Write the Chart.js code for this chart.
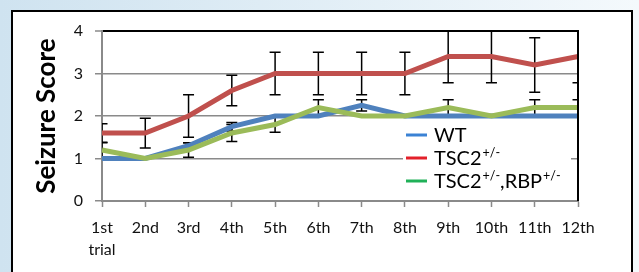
<!DOCTYPE html>
<html>
<head>
<meta charset="utf-8">
<script src="https://cdn.jsdelivr.net/npm/chart.js@4"></script>
<style>
  html, body { margin: 0; padding: 0; }
  body {
    width: 639px; height: 272px; overflow: hidden; position: relative;
    background: linear-gradient(to right, #cfe3f0, #f4f9fc);
  }
  #box {
    position: absolute; left: 11px; top: 10px; width: 618px; height: 300px;
    border: 2px solid #000; background: #fff;
  }
  #chart { position: absolute; left: 0; top: 0; }
</style>
</head>
<body>
<div id="box"></div>
<canvas id="chart" width="639" height="272"></canvas>
<script>
const trials = [['1st', 'trial'], '2nd', '3rd', '4th', '5th', '6th', '7th', '8th', '9th', '10th', '11th', '12th'];
const yTicks = [0, 1, 2, 3, 4];

const wt = [1, 1, 1.3, 1.75, 2, 2, 2.25, 2, 2, 2, 2, 2];
const wtErr = [0, 0, 0.07, 0.1, 0, 0, 0.13, 0, 0, 0, 0, 0];

const tsc2 = [1.6, 1.6, 2, 2.6, 3, 3, 3, 3, 3.4, 3.4, 3.2, 3.4];
const tsc2Err = [0.22, 0.35, 0.5, 0.36, 0.5, 0.5, 0.5, 0.5, 0.62, 0.62, 0.64, 0.62];

const tsc2Rbp = [1.2, 1, 1.2, 1.6, 1.8, 2.2, 2, 2, 2.2, 2, 2.2, 2.2];
const tsc2RbpErr = [0.17, 0, 0.17, 0.2, 0.18, 0.18, 0, 0, 0.18, 0, 0.18, 0.18];

// legend entries: [text, superscript, text, superscript], legend line colour
const legendRows = [
  { parts: ['WT'], color: '#3b82d4' },
  { parts: ['TSC2', '+/-'], color: '#e3202a' },
  { parts: ['TSC2', '+/-', ',RBP', '+/-'], color: '#20b158' }
];

const FONT = 'Lato, "Open Sans", sans-serif';
const GRID = '#8a8a8a';

const errorBars = {
  id: 'errorBars',
  beforeDatasetsDraw(chart) {
    const ctx = chart.ctx;
    const area = chart.chartArea;
    const y = chart.scales.y;
    ctx.save();
    ctx.beginPath();
    ctx.rect(area.left, area.top - 1, area.right - area.left, area.bottom - area.top + 2);
    ctx.clip();
    ctx.strokeStyle = '#000';
    ctx.lineWidth = 1.5;
    chart.data.datasets.forEach((ds, di) => {
      const meta = chart.getDatasetMeta(di);
      ds.err.forEach((e, i) => {
        if (!e) return;
        const x = meta.data[i].x;
        const top = y.getPixelForValue(ds.data[i] + e);
        const bot = y.getPixelForValue(ds.data[i] - e);
        ctx.beginPath();
        ctx.moveTo(x, top); ctx.lineTo(x, bot);
        ctx.moveTo(x - 5.5, top); ctx.lineTo(x + 5.5, top);
        ctx.moveTo(x - 5.5, bot); ctx.lineTo(x + 5.5, bot);
        ctx.stroke();
      });
    });
    ctx.restore();
  }
};

const frameAndLegend = {
  id: 'frameAndLegend',
  afterDraw(chart) {
    const ctx = chart.ctx;
    const a = chart.chartArea;
    ctx.save();
    // black right edge of plot
    ctx.strokeStyle = '#000';
    ctx.lineWidth = 2;
    ctx.beginPath();
    ctx.moveTo(a.right, a.top - 1);
    ctx.lineTo(a.right, a.bottom);
    ctx.stroke();

    // legend inside plot
    const lx = a.left + 301, ly = a.top + 92;
    ctx.fillStyle = '#fff';
    ctx.fillRect(lx, ly, 168, 70);
    legendRows.forEach((row, r) => {
      const cy = ly + 12 + r * 23;
      ctx.strokeStyle = row.color;
      ctx.lineWidth = 3;
      ctx.beginPath();
      ctx.moveTo(lx + 3, cy);
      ctx.lineTo(lx + 24, cy);
      ctx.stroke();
      let x = lx + 31;
      ctx.fillStyle = '#000';
      ctx.textBaseline = 'alphabetic';
      row.parts.forEach((p, k) => {
        if (k % 2 === 0) {
          ctx.font = '20px ' + FONT;
          ctx.fillText(p, x, cy + 7);
        } else {
          ctx.font = '12.5px ' + FONT;
          ctx.fillText(p, x + 1, cy - 1);
        }
        x += ctx.measureText(p).width + (k % 2 ? 1 : 0);
      });
    });
    ctx.restore();
  }
};

const config = {
  type: 'line',
  data: {
    labels: trials,
    datasets: [
      { label: 'WT', data: wt, err: wtErr, borderColor: '#4f81bd', order: 2 },
      { label: 'TSC2+/-', data: tsc2, err: tsc2Err, borderColor: '#c0504d', order: 1 },
      { label: 'TSC2+/-,RBP+/-', data: tsc2Rbp, err: tsc2RbpErr, borderColor: '#9bbb59', order: 0 }
    ].map(d => Object.assign(d, { borderWidth: 5, pointRadius: 0, tension: 0, fill: false }))
  },
  options: {
    responsive: false,
    animation: false,
    layout: { padding: { top: 31, right: 61, left: 0, bottom: 0 } },
    plugins: { legend: { display: false }, tooltip: { enabled: false } },
    scales: {
      x: {
        offset: false,
        grid: { drawOnChartArea: false, drawTicks: true, tickLength: 6, tickColor: GRID, tickWidth: 1.5 },
        border: { color: GRID, width: 2 },
        ticks: { color: '#111', font: { family: FONT, size: 16, lineHeight: 1.35 }, padding: 10, maxRotation: 0, autoSkip: false },
        afterFit(scale) { scale.height = 71; }
      },
      y: {
        min: 0,
        max: 4,
        afterBuildTicks(scale) { scale.ticks = yTicks.map(v => ({ value: v })); },
        grid: {
          color: c => (c.tick && c.tick.value === 4 ? '#000' : GRID),
          lineWidth: c => (c.tick && c.tick.value === 4 ? 2 : 1.5),
          tickColor: GRID, tickLength: 7, tickWidth: 1.5
        },
        border: { color: GRID, width: 2 },
        ticks: { color: '#111', font: { family: FONT, size: 16 }, padding: 12 },
        title: {
          display: true,
          text: 'Seizure Score',
          color: '#000',
          font: { family: FONT, size: 26, weight: 'bold' },
          padding: { top: 31, bottom: 0 }
        },
        afterFit(scale) { scale.width = 102; }
      }
    }
  },
  plugins: [errorBars, frameAndLegend]
};

const chart = new Chart(document.getElementById('chart').getContext('2d'), config);
</script>
</body>
</html>
